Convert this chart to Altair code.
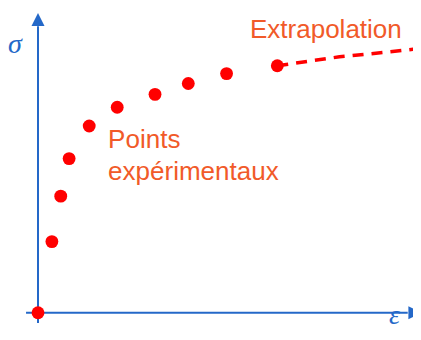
import altair as alt
import pandas as pd

# Experimental points (strain, stress)
eps_pts = [0, 0.58, 0.95, 1.3, 2.14, 3.31, 4.89, 6.28, 7.88, 10.0]
sig_pts = [0, 72, 118, 156, 189, 208, 221, 232, 242, 250]

# Extrapolated curve
eps_ext = [10.0, 12.6, 14.7, 16.0]
sig_ext = [250, 259, 264, 267.5]

# Axis extents
x_axis_from, x_axis_to = -0.5, 15.45
y_axis_from, y_axis_to = -10.4, 290
x_arrow_at, y_arrow_at = 15.75, 296.7

# Labels
label_text = ["Extrapolation", "Points", "expérimentaux"]
label_eps = [8.86, 2.93, 2.93]
label_sig = [278.0, 166.7, 134.3]
sym_text = ["σ", "ε"]
sym_eps = [-1.25, 14.67]
sym_sig = [262.9, -11.8]

X_DOM = [-1.254, 15.671]
Y_DOM = [-19.5, 308.4]
BLUE = "#2468c8"
RED = "#ff0000"
ORANGE = "#f15a29"

xs = alt.Scale(domain=X_DOM, nice=False, zero=False)
ys = alt.Scale(domain=Y_DOM, nice=False, zero=False)

def X(f="x"):
    return alt.X(f"{f}:Q", scale=xs, axis=None)

def Y(f="y"):
    return alt.Y(f"{f}:Q", scale=ys, axis=None)

pts = pd.DataFrame({"x": eps_pts, "y": sig_pts})
ext = pd.DataFrame({"x": eps_ext, "y": sig_ext})

xaxis = alt.Chart(pd.DataFrame({"x": [x_axis_from], "x2": [x_axis_to], "y": [0]})).mark_rule(
    color=BLUE, strokeWidth=2).encode(x=X(), x2="x2:Q", y=Y())
yaxis = alt.Chart(pd.DataFrame({"x": [0], "y": [y_axis_from], "y2": [y_axis_to]})).mark_rule(
    color=BLUE, strokeWidth=2).encode(x=X(), y=Y(), y2="y2:Q")
up_arrow = alt.Chart(pd.DataFrame({"x": [0], "y": [y_arrow_at]})).mark_point(
    shape="M-1,1L0,-1L1,1Z", size=169, filled=True, color=BLUE, opacity=1).encode(x=X(), y=Y())
right_arrow = alt.Chart(pd.DataFrame({"x": [x_arrow_at], "y": [0]})).mark_point(
    shape="M-1,-1L1,0L-1,1Z", size=169, filled=True, color=BLUE, opacity=1).encode(x=X(), y=Y())

dashed = alt.Chart(ext).mark_line(color=RED, strokeWidth=3.5, strokeDash=[11, 8]).encode(
    x=X(), y=Y())
dots = alt.Chart(pts).mark_circle(color=RED, size=165, opacity=1).encode(x=X(), y=Y())

labels = alt.Chart(pd.DataFrame({"t": label_text, "x": label_eps, "y": label_sig})).mark_text(
    align="left", baseline="alphabetic", font="Liberation Sans", fontSize=26, color=ORANGE
).encode(x=X(), y=Y(), text="t:N")

syms = alt.Chart(pd.DataFrame({"t": sym_text, "x": sym_eps, "y": sym_sig})).mark_text(
    align="left", baseline="alphabetic", font="Liberation Serif", fontStyle="italic",
    fontSize=28, color=BLUE
).encode(x=X(), y=Y(), text="t:N")

chart = alt.layer(xaxis, yaxis, up_arrow, right_arrow, dashed, dots, labels, syms).properties(
    width=405, height=324, autosize=alt.AutoSizeParams(type="none"), padding=0,
    background="white"
).configure_view(stroke=None)

chart.save("out.html", embed_options={"renderer": "svg", "actions": False})
